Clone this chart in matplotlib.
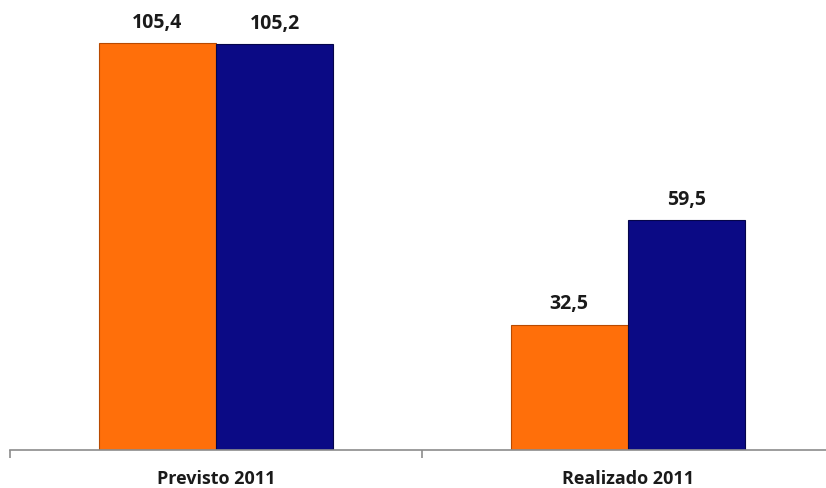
import matplotlib.pyplot as plt
import numpy as np

categorias = ["Previsto 2011", "Realizado 2011"]
serie_laranja = [105.4, 32.5]
serie_azul = [105.2, 59.5]

cor_laranja = "#FF6F0A"
cor_azul = "#0B0A85"

plt.rcParams["font.family"] = ["Open Sans", "DejaVu Sans"]

fig = plt.figure(figsize=(8.26, 4.89), dpi=100)
# eixo vai de x=10px ate alem da borda direita, base em y=451px
ax = fig.add_axes([10 / 826, 38 / 489, 824 / 826, 451 / 489])

x = np.arange(len(categorias))
largura = 0.285

b1 = ax.bar(x - largura / 2, serie_laranja, largura, color=cor_laranja,
            edgecolor="#B84A00", linewidth=0.8, zorder=2)
b2 = ax.bar(x + largura / 2, serie_azul, largura, color=cor_azul,
            edgecolor="#05054A", linewidth=0.8, zorder=2)

def rotulos(barras, valores):
    for r, v in zip(barras, valores):
        ax.annotate(f"{v:.1f}".replace(".", ","),
                    (r.get_x() + r.get_width() / 2, r.get_height()),
                    xytext=(0, 8), textcoords="offset points",
                    ha="center", va="bottom", fontsize=14, fontweight="bold",
                    color="#1a1a1a")

rotulos(b1, serie_laranja)
rotulos(b2, serie_azul)

ax.set_xlim(-0.5, 1.5)
ax.set_ylim(0, 451 / 3.86)
ax.set_yticks([])
for lado in ["top", "right", "left"]:
    ax.spines[lado].set_visible(False)
ax.spines["bottom"].set_color("#8c8c8c")
ax.spines["bottom"].set_linewidth(1.2)

# marcas entre as categorias
ax.set_xticks([-0.5, 0.5, 1.5], minor=True)
ax.tick_params(axis="x", which="minor", length=6, color="#8c8c8c", width=1.2)
ax.set_xticks(x)
ax.set_xticklabels(categorias, fontsize=13, fontweight="bold", color="#1a1a1a")
ax.tick_params(axis="x", which="major", length=0, pad=14)

fig.savefig("out.png", dpi=100)
